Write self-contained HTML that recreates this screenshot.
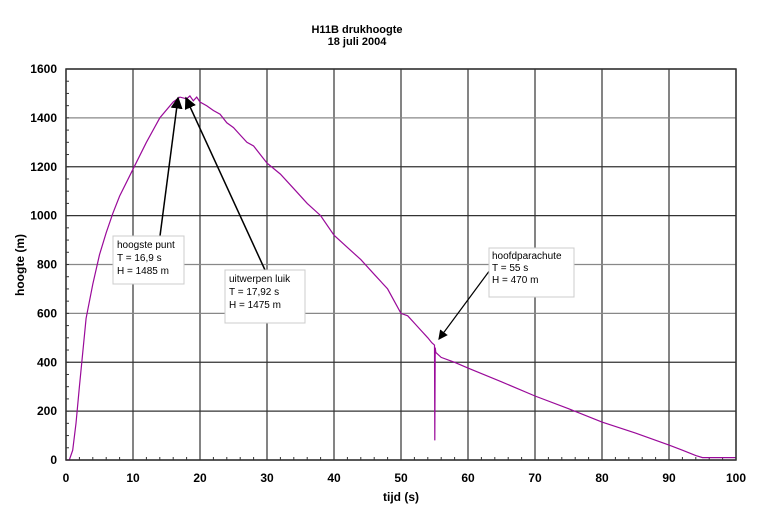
<!DOCTYPE html>
<html><head><meta charset="utf-8"><style>
body{margin:0;background:#fff;}
svg{display:block;font-family:"Liberation Sans",Arial,sans-serif;}
</style></head><body>
<svg id="chart" width="759" height="516" viewBox="0 0 759 516" xmlns="http://www.w3.org/2000/svg">
<text x="357" y="33" font-size="11" font-weight="bold" text-anchor="middle">H11B drukhoogte</text>
<text x="357" y="45" font-size="11" font-weight="bold" text-anchor="middle">18 juli 2004</text>
<g id="grid"></g>
<g id="ticks"></g>
<path id="series" fill="none" stroke="#9a0a9a" stroke-width="1.2"/>
<rect x="66" y="69" width="670" height="391" fill="none" stroke="#333" stroke-width="1.5"/>
<text x="401" y="501" font-size="12" font-weight="bold" text-anchor="middle">tijd (s)</text>
<text transform="translate(24,265) rotate(-90)" font-size="12" font-weight="bold" text-anchor="middle">hoogte (m)</text>
<defs><marker id="ah" markerWidth="8" markerHeight="8" refX="7" refY="4" orient="auto"><path d="M0,0 L8,4 L0,8 z" fill="#000"/></marker></defs>
<g>
<line x1="160" y1="236" x2="178" y2="98" stroke="#000" stroke-width="1.5" marker-end="url(#ah)"/>
<rect x="113" y="236" width="71" height="48" fill="#fff" stroke="#ccc"/>
<text x="117" y="248" font-size="10">hoogste punt</text>
<text x="117" y="261" font-size="10">T = 16,9 s</text>
<text x="117" y="274" font-size="10">H = 1485 m</text>
</g>
<g>
<line x1="265" y1="270" x2="186" y2="98" stroke="#000" stroke-width="1.5" marker-end="url(#ah)"/>
<rect x="225" y="270" width="80" height="53" fill="#fff" stroke="#ccc"/>
<text x="229" y="282" font-size="10">uitwerpen luik</text>
<text x="229" y="295" font-size="10">T = 17,92 s</text>
<text x="229" y="308" font-size="10">H = 1475 m</text>
</g>
<g>
<line x1="490" y1="270" x2="439" y2="339" stroke="#000" stroke-width="1.2" marker-end="url(#ah)"/>
<rect x="489" y="248" width="85" height="49" fill="#fff" stroke="#ccc"/>
<text x="492" y="259" font-size="10">hoofdparachute</text>
<text x="492" y="271" font-size="10">T = 55 s</text>
<text x="492" y="283" font-size="10">H =  470 m</text>
</g>
</svg>
<script>
const times=[0,0.5,1,1.5,2,3,4,5,6,7,8,10,12,14,16,17,18,18.5,19,19.5,20,21,22,23,24,25,26,27,28,30,32,34,36,38,40,42,44,46,48,50,51,52,53,54,54.6,55,55.05,55.1,55.2,56,58,60,65,70,75,80,85,90,92,94,95,97,100];
const heights=[0,0,40,150,300,580,720,840,930,1010,1080,1190,1300,1400,1465,1485,1478,1490,1470,1485,1465,1450,1430,1415,1380,1360,1330,1300,1285,1215,1170,1110,1050,1000,920,870,820,760,700,600,590,560,530,500,480,470,80,460,440,420,400,376,320,262,210,155,110,61,40,18,10,10,10];
const xTicks=[0,10,20,30,40,50,60,70,80,90,100];
const yTicks=[0,200,400,600,800,1000,1200,1400,1600];
const X0=66,X1=736,Y0=460,Y1=69;
const xs=v=>X0+(X1-X0)*v/100;
const ys=v=>Y0-(Y0-Y1)*v/1600;
const NS="http://www.w3.org/2000/svg";
const grid=document.getElementById('grid'),ticks=document.getElementById('ticks');
function mk(tag,attrs,parent){const e=document.createElementNS(NS,tag);for(const k in attrs)e.setAttribute(k,attrs[k]);parent.appendChild(e);return e;}
xTicks.forEach(v=>{
  const l=mk('line',{x1:xs(v),x2:xs(v),y1:Y1,y2:Y0,stroke:'#333','stroke-width':1.2},grid);
  
  
  const t=mk('text',{x:xs(v),y:482,'font-size':12,'font-weight':'bold','text-anchor':'middle'},ticks);
  t.textContent=v;
  
  
});
yTicks.forEach(v=>{
  const l=mk('line',{x1:X0,x2:X1,y1:ys(v),y2:ys(v),stroke:(v==1400||v==600||v==800)?'#888':'#333','stroke-width':1.2},grid);
  
  
  const t=mk('text',{x:57,y:ys(v)+4,'font-size':12,'font-weight':'bold','text-anchor':'end'},ticks);
  t.textContent=v;
  
  
});
for(let v=0;v<=100;v+=2){const m=mk('line',{x1:xs(v),x2:xs(v),y1:Y0,y2:Y0-3,stroke:'#333'},ticks);

}
for(let v=0;v<=1600;v+=50){const m=mk('line',{x1:X0,x2:X0+3,y1:ys(v),y2:ys(v),stroke:'#333'},ticks);

}
document.getElementById('series').setAttribute('d',times.map((t,i)=>(i?'L':'M')+xs(t).toFixed(1)+','+ys(heights[i]).toFixed(1)).join(' '));
</script>
</body></html>
